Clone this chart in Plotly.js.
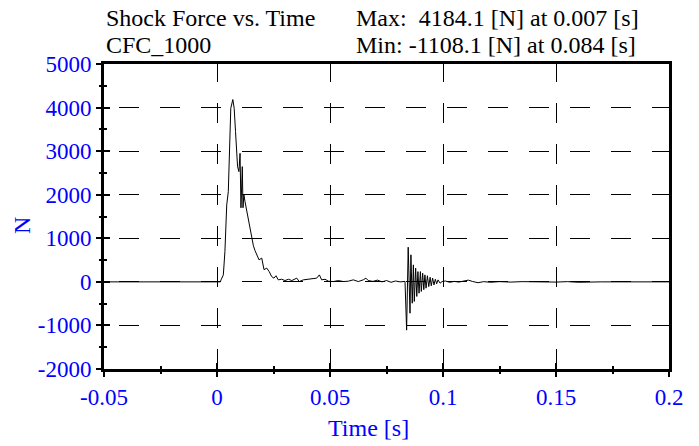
<!DOCTYPE html>
<html>
<head>
<meta charset="utf-8">
<script src="https://cdn.plot.ly/plotly-3.0.1.min.js"></script>
<style>
  html, body { margin: 0; padding: 0; background: #fff; }
  #grafico { width: 699px; height: 446px; }
</style>
</head>
<body>
<div id="grafico"></div>
<script>
// tiempo [s]
const tiempo = [
  -0.05, 0.0015, 0.0018, 0.0028, 0.0035, 0.0043, 0.0050, 0.0055, 0.0061, 0.0070,
  0.0076, 0.0082, 0.0087, 0.0091, 0.0097, 0.0102, 0.0106, 0.0109, 0.0112, 0.0115,
  0.0119, 0.0124, 0.0131, 0.0139, 0.0146, 0.0153, 0.0161, 0.0168, 0.0176, 0.0186,
  0.0198, 0.0208, 0.0220, 0.0231, 0.0242, 0.0252, 0.0261, 0.0271, 0.0286, 0.0301,
  0.0316, 0.0331, 0.0353, 0.0364, 0.0382, 0.0404, 0.0426, 0.0441, 0.0453, 0.0463,
  0.0478, 0.0493, 0.0515, 0.0537, 0.0559, 0.0581, 0.0603, 0.0625, 0.0647, 0.0659,
  0.0669, 0.0690, 0.0710, 0.0730, 0.0750, 0.0770, 0.0790, 0.0810, 0.0832, 0.0839,
  0.0846, 0.0854, 0.0858, 0.0864, 0.0869, 0.0873, 0.0879, 0.0884, 0.0889, 0.0894,
  0.0900, 0.0904, 0.0910, 0.0915, 0.0920, 0.0925, 0.0931, 0.0937, 0.0943, 0.0948,
  0.0954, 0.0960, 0.0966, 0.0972, 0.0978, 0.0987, 0.0996, 0.1010, 0.1030, 0.1050,
  0.1070, 0.1090, 0.1112, 0.1130, 0.1155, 0.1180, 0.1210, 0.1250, 0.1300, 0.1350,
  0.1400, 0.1450, 0.1500, 0.1550, 0.1600, 0.1700, 0.1800, 0.1900, 0.2000
];

// fuerza [N]
const fuerza = [
  0, 0, 46, 160, 695, 1766, 2070, 3140, 3985, 4184,
  3985, 3450, 2840, 2645, 2530, 2950, 1700, 2530, 2645, 1700,
  2000, 1840, 1650, 1380, 1180, 1000, 830, 720, 620, 505,
  545, 280, 315, 235, 120, 85, 140, 46, 60, 30,
  60, 30, 85, 7, 46, 60, 75, 85, 160, 46,
  60, 15, 7, 30, 7, 15, 46, 7, 46, 85,
  30, 10, 40, 0, 30, -10, 20, 0, 10, -1108,
  795, -720, 620, -490, 390, -450, 315, -335, 235, -260,
  235, -220, 200, -180, 160, -145, 140, -110, 105, -90,
  85, -70, 60, -45, 45, -30, 7, 20, -10, 10,
  -5, 15, 40, 10, -20, 5, -10, 5, -5, 5,
  0, 10, -5, 5, -10, 0, 5, -5, 0
];

// marcas de los ejes
const xTicks = [-0.05, 0, 0.05, 0.1, 0.15, 0.2];
const xTickText = ["-0.05", "0", "0.05", "0.1", "0.15", "0.2"];
const xMinor = [-0.025, 0.025, 0.075, 0.125, 0.175];
const yTicks = [-2000, -1000, 0, 1000, 2000, 3000, 4000, 5000];
const yTickText = ["-2000", "-1000", "0", "1000", "2000", "3000", "4000", "5000"];
const yMinor = [-1500, -500, 500, 1500, 2500, 3500, 4500];

const fuente = "Liberation Serif";
const azul = "#0000ff";

const ejeComun = {
  showline: true,
  linewidth: 3,
  linecolor: "#000",
  mirror: true,
  zeroline: false,
  ticks: "outside",
  ticklen: 5,
  tickwidth: 2,
  tickcolor: "#000",
  tickmode: "array",
  showgrid: true,
  gridcolor: "#000",
  gridwidth: 1,
  tickfont: { family: fuente, size: 23, color: azul }
};

// ticks hacia dentro (eje superpuesto)
const ejeDentro = {
  overlaying: "x",
  range: [-0.05, 0.2],
  ticks: "inside",
  ticklen: 6,
  tickwidth: 2,
  tickcolor: "#000",
  tickmode: "array",
  tickvals: xTicks,
  showticklabels: false,
  showgrid: false,
  showline: false,
  zeroline: false,
  minor: { tickvals: xMinor, ticks: "inside", ticklen: 3, tickwidth: 2, tickcolor: "#000", showgrid: false }
};

const trazas = [
  {
    x: tiempo,
    y: fuerza,
    type: "scatter",
    mode: "lines",
    line: { color: "#000", width: 1 },
    hoverinfo: "skip"
  },
  {
    x: [],
    y: [],
    xaxis: "x2",
    yaxis: "y2",
    type: "scatter",
    mode: "lines"
  }
];

const texto = { family: fuente, size: 24, color: "#000" };
const textoAzul = { family: fuente, size: 24, color: azul };

const layout = {
  width: 699,
  height: 446,
  margin: { l: 104, r: 30, t: 64, b: 77 },
  paper_bgcolor: "#fff",
  plot_bgcolor: "#fff",
  showlegend: false,
  font: { family: fuente, color: "#000" },
  xaxis: Object.assign({}, ejeComun, {
    range: [-0.05, 0.2],
    tickvals: xTicks,
    ticktext: xTickText,
    griddash: "18px,21px,2px,0px",
    minor: { tickvals: xMinor, ticks: "outside", ticklen: 2, tickwidth: 2, tickcolor: "#000", showgrid: false }
  }),
  yaxis: Object.assign({}, ejeComun, {
    range: [-2000, 5000],
    tickvals: yTicks,
    ticktext: yTickText,
    griddash: "0px,15px,20px,6px",
    minor: { tickvals: yMinor, ticks: "outside", ticklen: 2, tickwidth: 2, tickcolor: "#000", showgrid: false }
  }),
  xaxis2: Object.assign({}, ejeDentro, { anchor: "y", side: "bottom" }),
  yaxis2: Object.assign({}, ejeDentro, {
    overlaying: "y",
    anchor: "x",
    side: "left",
    range: [-2000, 5000],
    tickvals: yTicks,
    minor: { tickvals: yMinor, ticks: "inside", ticklen: 3, tickwidth: 2, tickcolor: "#000", showgrid: false }
  }),
  annotations: [
    { text: "Shock Force vs. Time", xref: "paper", yref: "paper", x: 0.0, y: 1.151, xanchor: "left", yanchor: "middle", showarrow: false, font: texto },
    { text: "CFC_1000", xref: "paper", yref: "paper", x: 0.0, y: 1.062, xanchor: "left", yanchor: "middle", showarrow: false, font: texto },
    { text: "Max:\u00a0\u00a04184.1 [N] at 0.007 [s]", xref: "paper", yref: "paper", x: 0.442, y: 1.151, xanchor: "left", yanchor: "middle", showarrow: false, font: texto },
    { text: "Min: -1108.1 [N] at 0.084 [s]", xref: "paper", yref: "paper", x: 0.442, y: 1.062, xanchor: "left", yanchor: "middle", showarrow: false, font: texto },
    // titulos de los ejes
    { text: "Time [s]", xref: "paper", yref: "paper", x: 0.468, y: -0.193, xanchor: "center", yanchor: "middle", showarrow: false, font: textoAzul },
    { text: "N", xref: "paper", yref: "paper", x: -0.145, y: 0.469, xanchor: "center", yanchor: "middle", textangle: -90, showarrow: false, font: textoAzul }
  ]
};

Plotly.newPlot("grafico", trazas, layout, { staticPlot: true, displayModeBar: false });
</script>
</body>
</html>
